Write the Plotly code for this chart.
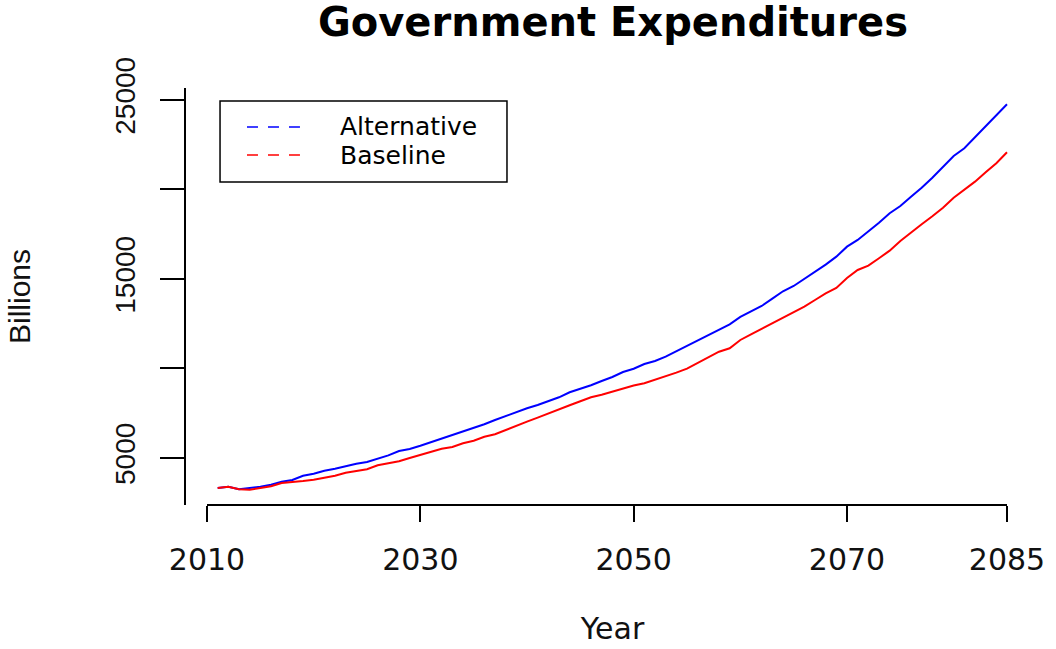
import plotly.graph_objects as go

years = list(range(2011, 2086))

alternative = [
    3324, 3397, 3250, 3307, 3397, 3510, 3676, 3771, 4011, 4123,
    4291, 4403, 4553, 4682, 4777, 4963, 5149, 5391, 5503, 5680,
    5877, 6078, 6302, 6508, 6676, 6883, 7123, 7347, 7587, 7777,
    7961, 8168, 8391, 8671, 8855, 9062, 9302, 9525, 9805, 9985,
    10252, 10419, 10660, 10961, 11257, 11576, 11872, 12190, 12470, 12878,
    13196, 13492, 13900, 14313, 14610, 15001, 15409, 15800, 16247, 16806,
    17180, 17644, 18147, 18672, 19079, 19599, 20102, 20661, 21275, 21873,
    22303, 22917, 23509, 24124, 24761,
]

baseline = [
    3324, 3397, 3250, 3230, 3324, 3418, 3603, 3641, 3715, 3788,
    3883, 4011, 4179, 4274, 4369, 4592, 4703, 4815, 5000, 5160,
    5335, 5520, 5615, 5821, 5967, 6190, 6324, 6564, 6827, 7028,
    7252, 7497, 7721, 7944, 8168, 8391, 8537, 8704, 8911, 9050,
    9173, 9358, 9542, 9766, 9989, 10291, 10604, 10939, 11129, 11593,
    11911, 12224, 12526, 12839, 13140, 13453, 13827, 14202, 14498, 15055,
    15504, 15744, 16157, 16582, 17124, 17610, 18057, 18504, 18984, 19543,
    19973, 20437, 20962, 21465, 22079,
]

x_ticks = [2010, 2030, 2050, 2070, 2085]
y_ticks = [5000, 10000, 15000, 20000, 25000]
y_tick_text = ["5000", "", "15000", "", "25000"]

series_names = ["Alternative", "Baseline"]
series_colors = ["#0000FF", "#FF0000"]

WIDE = "DejaVu Sans, Verdana, sans-serif"
NARROW = "Liberation Sans, Arial, sans-serif"

fig = go.Figure()
for name, vals, col in zip(series_names, [alternative, baseline], series_colors):
    fig.add_trace(go.Scatter(x=years, y=vals, mode="lines", name=name,
                             line=dict(color=col, width=2), showlegend=False))

# x axis line from first to last tick (R style)
fig.add_shape(type="line", xref="x", yref="paper", x0=x_ticks[0], x1=x_ticks[-1],
              y0=0, y1=0, line=dict(color="black", width=2))

# legend box
fig.add_shape(type="rect", xref="paper", yref="paper", x0=0.0399, x1=0.3763,
              y0=0.7746, y1=0.9688, line=dict(color="black", width=1.5),
              fillcolor="white")
leg_y = [0.9065, 0.8393]
for name, col, yy in zip(series_names, series_colors, leg_y):
    fig.add_shape(type="line", xref="paper", yref="paper", x0=0.0715, x1=0.1336,
                  y0=yy, y1=yy, line=dict(color=col, width=1.5, dash="11px,10px"))
    fig.add_annotation(xref="paper", yref="paper", x=0.1782, y=yy, text=name,
                       showarrow=False, xanchor="left", yanchor="middle",
                       font=dict(family=WIDE, size=25, color="black"))

fig.update_layout(
    width=1056, height=649,
    margin=dict(l=186, r=17, t=88, b=144, autoexpand=False),
    paper_bgcolor="white", plot_bgcolor="white",
    title=dict(text="Government Expenditures", x=0.5805, xanchor="center",
               y=0.966, yanchor="middle", yref="container",
               font=dict(family=WIDE, size=40, color="black", weight="bold")),
    xaxis=dict(range=[2008.03, 2088.0], tickvals=x_ticks,
               ticktext=[str(v) for v in x_ticks], automargin=False,
               showline=False, showgrid=False, zeroline=False,
               ticks="outside", ticklen=16, tickwidth=2, tickcolor="black",
               ticklabelstandoff=12,
               tickfont=dict(family=WIDE, size=30, color="#111111"),
               title=dict(text="Year", standoff=41,
                          font=dict(family=WIDE, size=30, color="#111111"))),
    yaxis=dict(range=[2374, 25670], tickvals=y_ticks, ticktext=y_tick_text,
               automargin=False,
               showline=True, linecolor="black", linewidth=2,
               showgrid=False, zeroline=False,
               ticks="outside", ticklen=24, tickwidth=2, tickcolor="black",
               tickangle=-90, ticklabelstandoff=14,
               tickfont=dict(family=NARROW, size=28, color="#111111"),
               title=dict(text="Billions", standoff=70,
                          font=dict(family=NARROW, size=30, color="#111111"))),
)

fig.write_html("out.html", config={"displayModeBar": False},
               post_script="document.body.style.margin='0';")
